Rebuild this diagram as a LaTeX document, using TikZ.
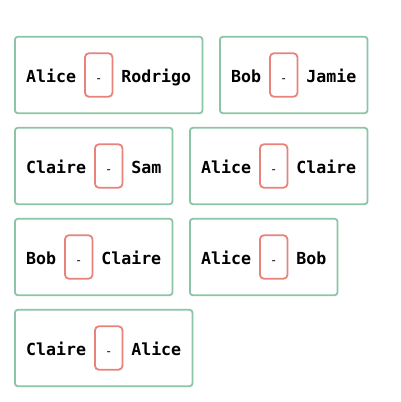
\documentclass[tikz,border=0pt]{standalone}
\usepackage{fontspec}
\usepackage[HTML]{xcolor}
\usetikzlibrary{positioning, fit}
\newfontfamily\pairfont{DejaVu Sans Mono}

\definecolor{pairgreen}{HTML}{8CC4A8}
\definecolor{sepred}{HTML}{E8827A}

\tikzset{
  person/.style={font=\pairfont\bfseries\fontsize{16.6pt}{18pt}\selectfont,
    inner sep=0pt, outer sep=0pt, text height=14.6pt, text depth=0pt},
  dashbox/.style={person, font=\pairfont\fontsize{12pt}{14pt}\selectfont,
    draw=sepred, line width=1.8pt, rounded corners=4pt,
    minimum width=27.5pt, minimum height=43.5pt},
  pairbox/.style={draw=pairgreen, line width=1.8pt, rounded corners=3pt,
    inner xsep=11.3pt, inner ysep=0pt, minimum height=76.5pt}
}

\begin{document}
\begin{tikzpicture}[x=1pt, y=-1pt, node distance=8.8pt]
\useasboundingbox (0,0) rectangle (400,402);

% --- Pairs: left name, separator, right name, frame ---
\foreach \i/\x/\y/\first/\second in {1/26.2/75/Alice/Rodrigo, 2/231.2/75/Bob/Jamie,
                                     3/26.2/166/Claire/Sam, 4/201.2/166/Alice/Claire,
                                     5/26.2/257/Bob/Claire, 6/201.2/257/Alice/Bob,
                                     7/26.2/348/Claire/Alice}{
  \node[person, anchor=west] (a\i) at (\x,\y) {\first};
  \node[dashbox, right=of a\i] (s\i) {-};
  \node[person, right=of s\i] (b\i) {\second};
  \node[pairbox, fit=(a\i)(s\i)(b\i)] (p\i) {};
}
\end{tikzpicture}
\end{document}
